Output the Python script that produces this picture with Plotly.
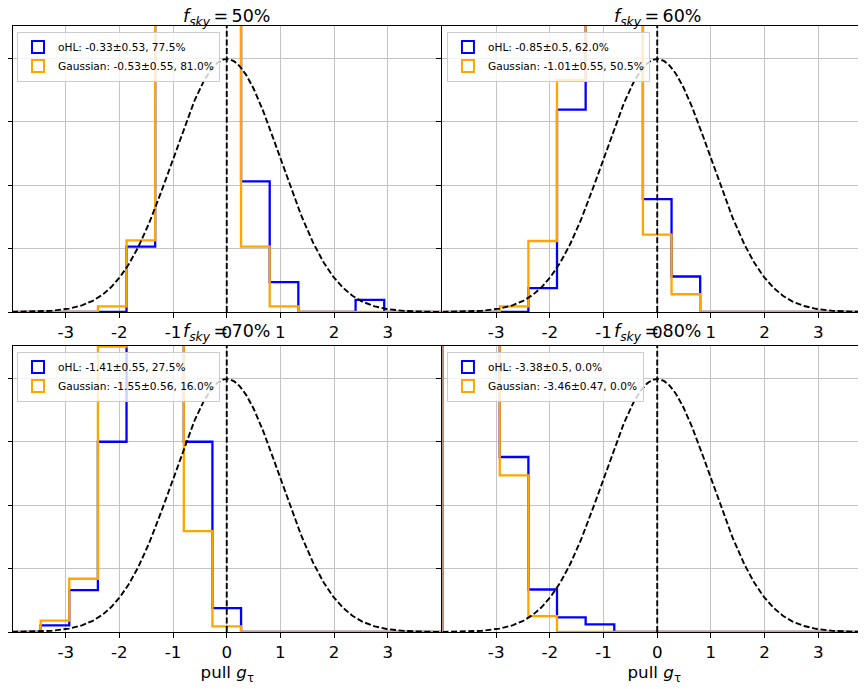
import numpy as np
import plotly.graph_objects as go

# ---------------- data ----------------
fsky_labels = ["50%", "60%", "70%", "80%"]
hist_range = (-4.0, 4.0)
n_bins = 15

# density-normalised step histograms (15 bins from -4 to 4); values above 0.45 run off the top
ohl_50 = [0, 0, 0, 0, 0.103, 0.46, 0.56, 0.48, 0.206, 0.047, 0, 0, 0.019, 0, 0]
gau_50 = [0, 0, 0, 0.009, 0.113, 0.52, 0.62, 0.50, 0.103, 0.009, 0, 0, 0, 0, 0]
ohl_60 = [0, 0, 0, 0.0375, 0.319, 0.62, 0.665, 0.178, 0.056, 0, 0, 0, 0, 0, 0]
gau_60 = [0, 0, 0.009, 0.112, 0.366, 0.60, 0.638, 0.122, 0.028, 0, 0, 0, 0, 0, 0]
ohl_70 = [0, 0.0105, 0.066, 0.30, 0.56, 0.60, 0.30, 0.0375, 0, 0, 0, 0, 0, 0, 0]
gau_70 = [0, 0.018, 0.084, 0.45, 0.55, 0.605, 0.159, 0.009, 0, 0, 0, 0, 0, 0, 0]
ohl_80 = [0.70, 0.80, 0.276, 0.067, 0.023, 0.012, 0, 0, 0, 0, 0, 0, 0, 0, 0]
gau_80 = [0.75, 0.85, 0.247, 0.025, 0, 0, 0, 0, 0, 0, 0, 0, 0, 0, 0]

ohl_labels = ["oHL: -0.33±0.53, 77.5%", "oHL: -0.85±0.5, 62.0%",
              "oHL: -1.41±0.55, 27.5%", "oHL: -3.38±0.5, 0.0%"]
gau_labels = ["Gaussian: -0.53±0.55, 81.0%", "Gaussian: -1.01±0.55, 50.5%",
              "Gaussian: -1.55±0.56, 16.0%", "Gaussian: -3.46±0.47, 0.0%"]

x_ticks = [-3, -2, -1, 0, 1, 2, 3]
x_tick_text = ["-3", "-2", "-1", "0", "1", "2", "3"]
y_ticks = [0, 0.1, 0.2, 0.3, 0.4]

# reference normal distribution N(0, 1)
ref_mu, ref_sigma = 0.0, 1.0

ohl_sets = [ohl_50, ohl_60, ohl_70, ohl_80]
gau_sets = [gau_50, gau_60, gau_70, gau_80]

# ---------------- styling ----------------
BLUE = "#0000ff"
ORANGE = "#ffa500"
FONT = "DejaVu Sans"
# the page body adds an 8px offset, so the figure is 8px smaller on each axis
W, H = 858, 681
PX = 54.0  # pixels per x unit

x_dom = [[0, 431 / W], [432 / W, 1.0], [0, 431 / W], [432 / W, 1.0]]
x_rng = [[-4 + 1 / PX, 4], [-4, -4 + (W - 432) / PX], [-4 + 1 / PX, 4], [-4, -4 + (W - 432) / PX]]
y_top = [1 - 304 / H, 1 - 18 / H]
y_bot = [1 - 624 / H, 1 - 338 / H]
y_dom = [y_top, y_top, y_bot, y_bot]
legend_pos = [(4.0 / W, 1 - 23.5 / H), (436.5 / W, 1 - 23.5 / H),
              (4.0 / W, 1 - 343.5 / H), (436.5 / W, 1 - 343.5 / H)]
title_shift = [-5, -5, 0, 0]

edges = np.linspace(hist_range[0], hist_range[1], n_bins + 1)
xg = np.linspace(-4, 4, 400)
pdf = np.exp(-0.5 * ((xg - ref_mu) / ref_sigma) ** 2) / (ref_sigma * np.sqrt(2 * np.pi))

fig = go.Figure()
layout = dict(width=W, height=H, margin=dict(l=0, r=0, t=0, b=0),
              paper_bgcolor="white", plot_bgcolor="white",
              font=dict(family=FONT, size=16.7, color="black"),
              showlegend=True, annotations=[], shapes=[])

for i in range(4):
    sfx = "" if i == 0 else str(i + 1)
    xa, ya = "x" + sfx, "y" + sfx
    lg = "legend" + sfx
    for vals, col in ((ohl_sets[i], BLUE), (gau_sets[i], ORANGE)):
        xs = [edges[0]] + list(edges)
        ys = [0] + list(vals) + [0]
        fig.add_trace(go.Scatter(x=xs, y=ys, mode="lines", line=dict(color=col, width=2.3, shape="hv"),
                                 xaxis=xa, yaxis=ya, showlegend=False, hoverinfo="skip"))
    for col, name in ((BLUE, ohl_labels[i]), (ORANGE, gau_labels[i])):
        fig.add_trace(go.Bar(x=[None], y=[None], name=name, xaxis=xa, yaxis=ya, legend=lg,
                             marker=dict(color="rgba(255,255,255,0)", line=dict(color=col, width=2))))
    fig.add_trace(go.Scatter(x=xg, y=pdf, mode="lines", line=dict(color="black", width=1.9, dash="6px,2.6px"),
                             xaxis=xa, yaxis=ya, showlegend=False, hoverinfo="skip"))
    fig.add_trace(go.Scatter(x=[ref_mu, ref_mu], y=[0, 0.451], mode="lines",
                             line=dict(color="black", width=1.9, dash="6px,2.6px"),
                             xaxis=xa, yaxis=ya, showlegend=False, hoverinfo="skip"))

    layout["xaxis" + sfx] = dict(domain=x_dom[i], range=x_rng[i], anchor=ya, tickvals=x_ticks,
                                 ticktext=x_tick_text,
                                 showgrid=True, gridcolor="#c4c4c4", gridwidth=1, zeroline=False,
                                 showline=True, linecolor="black", linewidth=1, mirror=True,
                                 ticks="outside", ticklen=5, tickwidth=1, tickcolor="black",
                                 tickfont=dict(size=16.7, family=FONT))
    layout["yaxis" + sfx] = dict(domain=y_dom[i], range=[0, 0.451], anchor=xa, tickvals=y_ticks,
                                 showticklabels=False, showgrid=True, gridcolor="#c4c4c4", gridwidth=1,
                                 zeroline=False, showline=True, linecolor="black", linewidth=1,
                                 mirror=(i % 2 == 0), ticks="outside", ticklen=5, tickwidth=1,
                                 tickcolor="black")
    if i >= 2:
        layout["xaxis" + sfx]["title"] = dict(text="pull <i>g</i><sub>τ</sub>",
                                              font=dict(size=16.7, family=FONT), standoff=4)
    layout[lg] = dict(x=legend_pos[i][0], y=legend_pos[i][1], xanchor="left", yanchor="top",
                      bgcolor="rgba(255,255,255,0.8)", bordercolor="#cccccc", borderwidth=1,
                      font=dict(size=10.6, family=FONT), tracegroupgap=0, itemwidth=30)
    layout["annotations"].append(dict(text="<i>f</i><sub><i>sky</i></sub>\u2009=\u2009" + fsky_labels[i],
                                      xref=xa, yref=ya + " domain", x=ref_mu, y=1,
                                      xanchor="center", yanchor="bottom", yshift=title_shift[i],
                                      showarrow=False, font=dict(size=17.5, family=FONT)))

fig.update_layout(**layout)
fig.write_html("out.html")
